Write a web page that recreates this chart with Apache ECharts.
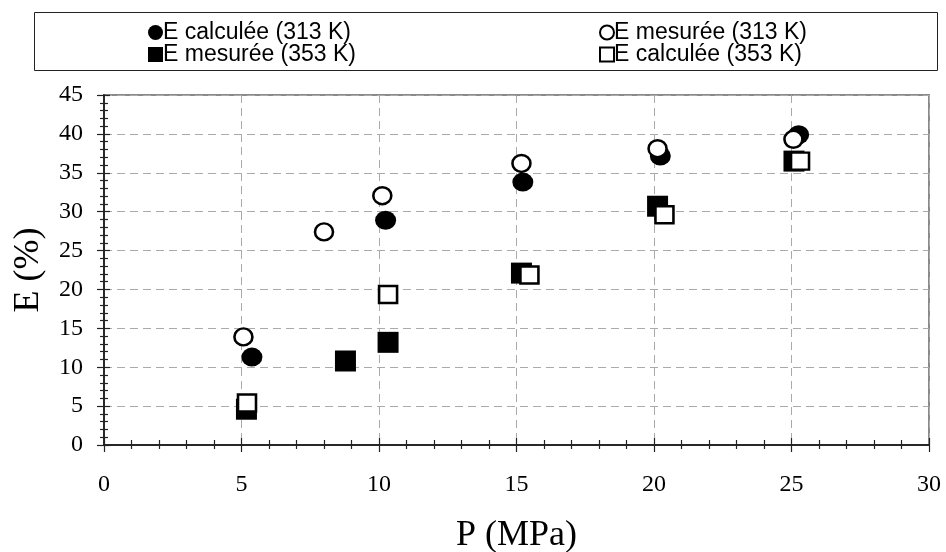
<!DOCTYPE html>
<html>
<head>
<meta charset="utf-8">
<script src="https://cdn.jsdelivr.net/npm/echarts@6/dist/echarts.min.js"></script>
<style>html,body{margin:0;padding:0;background:#fff}#c{width:946px;height:552px}</style>
</head>
<body>
<div id="c"></div>
<script>
// Series names
const names = ['E calculée (313 K)', 'E mesurée (313 K)', 'E mesurée (353 K)', 'E calculée (353 K)'];
// [P (MPa), E (%)]
const calc313 = [[5.38, 11.3], [10.24, 28.9], [15.23, 33.8], [20.23, 37.15], [25.26, 39.9]];
const mes313 = [[5.07, 13.9], [8.0, 27.4], [10.12, 32.05], [15.18, 36.2], [20.13, 38.1], [25.07, 39.3]];
const mes353 = [[5.18, 4.6], [8.78, 10.8], [10.33, 13.2], [15.18, 22.1], [20.13, 30.7], [25.09, 36.5]];
const calc353 = [[5.2, 5.4], [10.33, 19.35], [15.47, 21.85], [20.38, 29.6], [25.31, 36.5]];
const xTitle = 'P (MPa)';
const yTitle = 'E (%)';

const chart = echarts.init(document.getElementById('c'), null, {renderer: 'canvas'});
const serif = '"Liberation Serif", "Times New Roman", serif';
const sans = '"Liberation Sans", Arial, sans-serif';

function axisBase(extra) {
  return Object.assign({
    type: 'value', min: 0, interval: 5,
    axisLine: {show: true, lineStyle: {color: '#222', width: 1.5}},
    splitLine: {show: false},
    axisLabel: {show: false},
    minorTick: {show: true, splitNumber: 5, length: 4, lineStyle: {color: '#222', width: 1.2}},
    axisTick: {show: true, length: 7, lineStyle: {color: '#222', width: 1.2}}
  }, extra);
}

const option = {
  backgroundColor: '#fff',
  animation: false,
  grid: {left: 104, right: 17, top: 95, bottom: 107, outerBoundsMode: 'none', containLabel: false,
    show: true, borderColor: '#8a8a8a', borderWidth: 2, backgroundColor: 'transparent'},
  graphic: [{
    type: 'rect', shape: {x: 34.5, y: 12.5, width: 903, height: 58},
    style: {fill: '#fff', stroke: '#222', lineWidth: 1}, z: -1
  }],
  legend: [
    {
      data: [names[0], names[2]], orient: 'vertical', left: 148, top: 21, padding: 0, itemGap: -1,
      itemWidth: 15, itemHeight: 15,
      textStyle: {fontFamily: sans, fontSize: 23, color: '#000', padding: [0, 0, 0, -5]}
    },
    {
      data: [names[1], names[3]], orient: 'vertical', left: 599, top: 21, padding: 0, itemGap: -1,
      itemWidth: 14, itemHeight: 14,
      textStyle: {fontFamily: sans, fontSize: 23, color: '#000', padding: [0, 0, 0, -5]}
    }
  ],
  xAxis: [
    axisBase({
      max: 30, position: 'bottom',
      axisLabel: {show: true, fontFamily: serif, fontSize: 24, color: '#000', margin: 28},
      splitLine: {show: true, lineStyle: {color: '#aaa', type: [8, 5], width: 1}},
      name: xTitle, nameLocation: 'middle', nameGap: 73,
      nameTextStyle: {fontFamily: serif, fontSize: 36, color: '#000'}
    }),
    axisBase({max: 30, position: 'bottom', axisTick: {show: true, inside: true, length: 7, lineStyle: {color: '#222', width: 1.2}},
      minorTick: {show: true, splitNumber: 5, length: 5, lineStyle: {color: '#222', width: 1.2}}})
  ],
  yAxis: [
    axisBase({
      max: 45, position: 'left',
      axisLabel: {show: true, fontFamily: serif, fontSize: 24, color: '#000', margin: 21},
      splitLine: {show: true, lineStyle: {color: '#aaa', type: [8, 5], width: 1}},
      name: yTitle, nameLocation: 'middle', nameGap: 57, nameRotate: 90,
      nameTextStyle: {fontFamily: serif, fontSize: 36, color: '#000'}
    }),
    axisBase({max: 45, position: 'left', axisTick: {show: true, inside: true, length: 6, lineStyle: {color: '#222', width: 1.2}},
      minorTick: {show: true, splitNumber: 5, length: 4, lineStyle: {color: '#222', width: 1.2}}})
  ],
  series: [
    {name: names[0], type: 'scatter', data: calc313, symbol: 'circle', symbolSize: [21, 19], z: 2,
      itemStyle: {color: '#000', opacity: 1}},
    {name: names[2], type: 'scatter', data: mes353, symbol: 'rect', symbolSize: [21, 21], z: 3,
      itemStyle: {color: '#000', opacity: 1}},
    {name: names[1], type: 'scatter', data: mes313, symbol: 'circle', symbolSize: [18, 17], z: 4,
      itemStyle: {color: '#fff', borderColor: '#000', borderWidth: 2.5, opacity: 1}},
    {name: names[3], type: 'scatter', data: calc353, symbol: 'rect', symbolSize: [18, 17], z: 5,
      itemStyle: {color: '#fff', borderColor: '#000', borderWidth: 2.5, opacity: 1}}
  ]
};
chart.setOption(option);
</script>
</body>
</html>
